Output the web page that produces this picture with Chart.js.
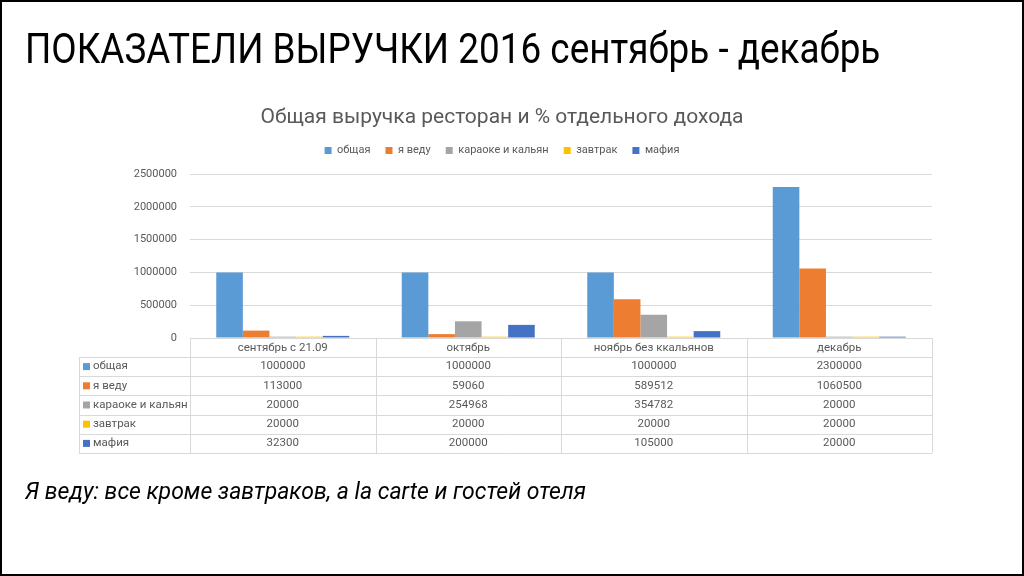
<!DOCTYPE html>
<html>
<head>
<meta charset="utf-8">
<script src="https://cdn.jsdelivr.net/npm/chart.js@4.4.0/dist/chart.umd.min.js"></script>
<style>
  html, body { margin: 0; padding: 0; background: #fff; }
  #slide { position: relative; width: 1024px; height: 576px; overflow: hidden; background: #fff; }
  #wrap { position: absolute; left: 0; top: 0; width: 1024px; height: 576px; }
  #frame { position: absolute; left: 0; top: 0; width: 1024px; height: 576px; box-sizing: border-box; border: 2px solid #000; pointer-events: none; }
  .title { position: absolute; left: 25px; top: 28px; margin: 0; font-family: "Roboto", sans-serif; font-weight: normal; font-size: 42px; line-height: 1; color: #000; white-space: nowrap; transform: scaleX(0.878); transform-origin: 0 0; }
  .note { position: absolute; left: 25px; top: 480px; margin: 0; font-family: "Roboto", sans-serif; font-style: italic; font-size: 23px; line-height: 1; color: #000; white-space: nowrap; }
</style>
</head>
<body>
<div id="slide">
  <div id="wrap"><canvas id="grafico"></canvas></div>
  <h1 class="title">ПОКАЗАТЕЛИ ВЫРУЧКИ 2016 сентябрь - декабрь</h1>
  <p class="note">Я веду: все кроме завтраков, a la carte и гостей отеля</p>
  <div id="frame"></div>
</div>
<script>
const categories = ["сентябрь с 21.09", "октябрь", "ноябрь без ккальянов", "декабрь"];
const seriesNames = ["общая", "я веду", "караоке и кальян", "завтрак", "мафия"];

const obshaya = [1000000, 1000000, 1000000, 2300000];
const yaVedu = [113000, 59060, 589512, 1060500];
const karaoke = [20000, 254968, 354782, 20000];
const zavtrak = [20000, 20000, 20000, 20000];
const mafia = [32300, 200000, 105000, 20000];

const yTicks = [0, 500000, 1000000, 1500000, 2000000, 2500000];

const seriesValues = [obshaya, yaVedu, karaoke, zavtrak, mafia];
const seriesColors = ["#5b9bd5", "#ed7d31", "#a5a5a5", "#ffc000", "#4472c4"];

const textColor = "#595959";
const lineColor = "#d9d9d9";
const chartFont = "Roboto";
const tableFontSize = 11.5;

// empty box between legend and plot
const pluginEspacio = {
  id: "pluginEspacio",
  beforeInit(chart) {
    Chart.layouts.addBox(chart, {
      position: "top",
      weight: 0,
      fullSize: true,
      options: {},
      update(maxWidth) {
        this.width = maxWidth;
        this.height = 8;
      },
      isHorizontal() { return true; },
      draw() {},
    });
  },
};

// table under the plot, columns follow the x scale
const pluginTabla = {
  id: "pluginTabla",
  afterDraw(chart) {
    const { ctx, chartArea, scales } = chart;
    const x = scales.x;
    const headerH = 19;
    const rowH = 19.2;
    const labelLeft = 79;
    const rowsTop = chartArea.bottom + headerH;
    const bottom = rowsTop + rowH * seriesNames.length;

    const bordes = [chartArea.left];
    for (let i = 1; i < categories.length; i++) {
      bordes.push((x.getPixelForValue(i - 1) + x.getPixelForValue(i)) / 2);
    }
    bordes.push(chartArea.right);

    ctx.save();
    ctx.strokeStyle = lineColor;
    ctx.lineWidth = 1;
    ctx.beginPath();
    for (let r = 0; r <= seriesNames.length; r++) {
      const y = Math.round(rowsTop + r * rowH) + 0.5;
      ctx.moveTo(labelLeft, y);
      ctx.lineTo(chartArea.right, y);
    }
    bordes.forEach((bx) => {
      const px = Math.round(bx) + 0.5;
      ctx.moveTo(px, chartArea.bottom);
      ctx.lineTo(px, bottom);
    });
    ctx.moveTo(labelLeft + 0.5, rowsTop);
    ctx.lineTo(labelLeft + 0.5, bottom);
    ctx.stroke();

    ctx.font = `${tableFontSize}px ${chartFont}`;
    ctx.textBaseline = "middle";
    seriesNames.forEach((nombre, r) => {
      const cy = rowsTop + r * rowH + rowH / 2;
      ctx.fillStyle = seriesColors[r];
      ctx.fillRect(labelLeft + 4, cy - 3.5, 7, 7);
      ctx.fillStyle = textColor;
      ctx.textAlign = "left";
      ctx.fillText(nombre, labelLeft + 14, cy);
      ctx.textAlign = "center";
      seriesValues[r].forEach((valor, c) => {
        ctx.fillText(String(valor), x.getPixelForValue(c), cy);
      });
    });
    ctx.restore();
  },
};

const datasets = seriesNames.map((nombre, i) => ({
  label: nombre,
  data: seriesValues[i],
  backgroundColor: seriesColors[i],
  borderWidth: 0,
  categoryPercentage: 0.717,
  barPercentage: 1,
}));

new Chart(document.getElementById("grafico"), {
  type: "bar",
  data: { labels: categories, datasets },
  options: {
    responsive: true,
    maintainAspectRatio: false,
    animation: false,
    layout: { padding: { left: 72, right: 92, top: 107, bottom: 123 } },
    plugins: {
      title: {
        display: true,
        text: "Общая выручка ресторан и % отдельного дохода",
        color: textColor,
        font: { family: chartFont, size: 21, weight: "normal", lineHeight: 1 },
        padding: { top: 0, bottom: 2 },
      },
      legend: {
        position: "top",
        labels: {
          color: textColor,
          font: { family: chartFont, size: 11 },
          boxWidth: 7,
          boxHeight: 7,
          padding: 15,
        },
      },
      tooltip: { enabled: false },
    },
    scales: {
      x: {
        grid: { display: false, drawTicks: false },
        border: { display: true, color: lineColor },
        ticks: { color: textColor, font: { family: chartFont, size: tableFontSize }, padding: 3, maxRotation: 0 },
        afterFit: (scale) => { scale.height = 115; },
      },
      y: {
        min: 0,
        max: 2500000,
        afterBuildTicks: (scale) => { scale.ticks = yTicks.map((v) => ({ value: v })); },
        grid: { color: lineColor, drawTicks: false },
        border: { display: false },
        ticks: {
          color: textColor,
          font: { family: chartFont, size: 11 },
          padding: 13,
          callback: (v) => String(v),
        },
        afterFit: (scale) => { scale.width = 118; },
      },
    },
  },
  plugins: [pluginEspacio, pluginTabla],
});
</script>
</body>
</html>
